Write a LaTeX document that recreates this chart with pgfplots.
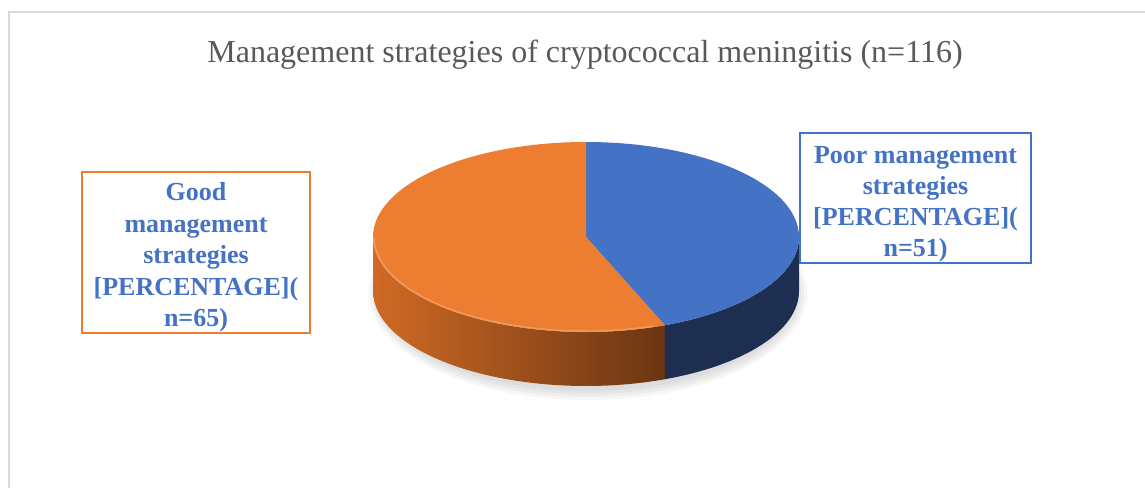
\documentclass[border=0pt]{standalone}
\usepackage{pgfplots}
\pgfplotsset{compat=1.18}
\usepackage{fontspec}
\setmainfont{Liberation Serif}
\usetikzlibrary{calc}

\definecolor{pieblue}{HTML}{4472C4}
\definecolor{pieorange}{HTML}{ED7D31}
\definecolor{sideblue}{HTML}{1D2E51}
\definecolor{sideorangeL}{HTML}{D06A25}
\definecolor{sideorangeR}{HTML}{6A3512}
\definecolor{rimorange}{HTML}{F5A66A}
\definecolor{titlegray}{HTML}{595959}
\definecolor{framegray}{HTML}{D9D9D9}

% counts
\def\npoor{51}
\def\ngood{65}

\begin{document}
\begin{tikzpicture}
\useasboundingbox (0,0) rectangle (1145pt,488pt);
% where the poor slice ends (starts at 12 o'clock, runs clockwise)
\pgfmathsetmacro{\split}{90-360*(\npoor/(\npoor+\ngood))}
\pgfmathsetmacro{\splitb}{\split+360}
\begin{axis}[
  width=1145pt, height=488pt, scale only axis,
  xmin=0, xmax=1145, ymin=0, ymax=488,
  hide axis, clip=false,
]
% frame
\draw[framegray, line width=1.5pt] (9,0) -- (9,476) -- (1145,476);

% title
\node[text=titlegray, font=\fontsize{32}{38}\selectfont] at (585,433)
  {Management strategies of cryptococcal meningitis (n=116)};

% soft shadow
\fill[black, opacity=0.035] (588,195) ellipse [x radius=219pt, y radius=107pt];
\fill[black, opacity=0.035] (588,195) ellipse [x radius=216pt, y radius=104pt];
\fill[black, opacity=0.035] (588,195) ellipse [x radius=213pt, y radius=101pt];
\fill[black, opacity=0.035] (588,195) ellipse [x radius=210pt, y radius=98pt];

% sides
\shade[left color=sideorangeL, right color=sideorangeR]
  (373,251) arc[start angle=180, end angle=\splitb, x radius=213pt, y radius=95pt]
  -- ++(0,-54pt)
  arc[start angle=\splitb, end angle=180, x radius=213pt, y radius=95pt] -- cycle;
\fill[sideblue]
  ($(586,251)+(\split:213pt and 95pt)$)
  arc[start angle=\split, end angle=0, x radius=213pt, y radius=95pt]
  -- ++(0,-54pt)
  arc[start angle=0, end angle=\split, x radius=213pt, y radius=95pt] -- cycle;

% top faces
\fill[pieblue] (586,251) -- (586,346)
  arc[start angle=90, end angle=\split, x radius=213pt, y radius=95pt] -- cycle;
\fill[pieorange] (586,251) -- ($(586,251)+(\split:213pt and 95pt)$)
  arc[start angle=\split, end angle=-270, x radius=213pt, y radius=95pt] -- cycle;
\draw[rimorange, line width=1.5pt, opacity=0.7]
  (374,251) arc[start angle=180, end angle=\splitb-3, x radius=212pt, y radius=94pt];

% labels
\draw[pieorange, line width=2pt, fill=white] (82,155) rectangle (310,316);
\node[text=pieblue, font=\bfseries\fontsize{26}{31.5}\selectfont, align=center] at (196,230.5)
  {Good\\management\\strategies\\{[PERCENTAGE](}\\n=65)};
\draw[pieblue, line width=2pt, fill=white] (800,225) rectangle (1031,355);
\node[text=pieblue, font=\bfseries\fontsize{26}{31}\selectfont, align=center] at (915.5,284)
  {Poor management\\strategies\\{[PERCENTAGE](}\\n=51)};
\end{axis}
\end{tikzpicture}
\end{document}
